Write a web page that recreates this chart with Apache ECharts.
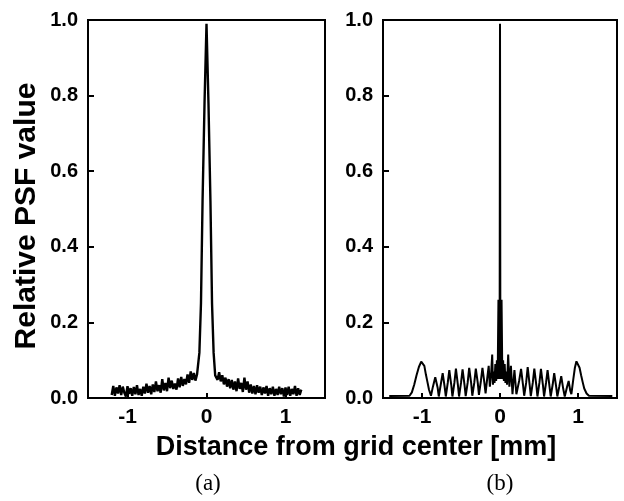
<!DOCTYPE html>
<html>
<head>
<meta charset="utf-8">
<script src="https://cdn.jsdelivr.net/npm/echarts@6/dist/echarts.min.js"></script>
<style>
html,body{margin:0;padding:0;background:#fff;}
#chart{width:624px;height:501px;}
</style>
</head>
<body>
<div id="chart"></div>
<script>
// ---- Data ----
const yTicks = [0, 0.2, 0.4, 0.6, 0.8, 1.0];
const xTicks = [-1, 0, 1];
const yTitle = 'Relative PSF value';
const xTitle = 'Distance from grid center [mm]';
const captions = ['(a)', '(b)'];

// Panel (a)
const xA = [-1.20,-1.18,-1.16,-1.14,-1.12,-1.10,-1.08,-1.06,-1.04,-1.02,-1.00,-0.98,-0.96,-0.94,-0.92,-0.90,-0.88,-0.86,-0.84,-0.82,-0.80,-0.78,-0.76,-0.74,-0.72,-0.70,-0.68,-0.66,-0.64,-0.62,-0.60,-0.58,-0.56,-0.54,-0.52,-0.50,-0.48,-0.46,-0.44,-0.42,-0.40,-0.38,-0.36,-0.34,-0.32,-0.30,-0.28,-0.26,-0.24,-0.22,-0.20,-0.18,-0.16,-0.14,-0.12,
  -0.11,-0.09,-0.07,-0.05,-0.025,0,0.025,0.05,0.07,0.09,0.11,
  0.12,0.14,0.16,0.18,0.20,0.22,0.24,0.26,0.28,0.30,0.32,0.34,0.36,0.38,0.40,0.42,0.44,0.46,0.48,0.50,0.52,0.54,0.56,0.58,0.60,0.62,0.64,0.66,0.68,0.70,0.72,0.74,0.76,0.78,0.80,0.82,0.84,0.86,0.88,0.90,0.92,0.94,0.96,0.98,1.00,1.02,1.04,1.06,1.08,1.10,1.12,1.14,1.16,1.18,1.20];
const yA = [0.008,0.032,0.006,0.028,0.012,0.034,0.008,0.030,0.014,0.004,0.031,0.011,0.026,0.006,0.029,0.010,0.034,0.008,0.024,0.006,0.030,0.012,0.038,0.014,0.032,0.010,0.036,0.016,0.044,0.018,0.034,0.014,0.050,0.020,0.040,0.018,0.054,0.026,0.046,0.024,0.038,0.022,0.052,0.028,0.056,0.032,0.050,0.036,0.062,0.040,0.070,0.048,0.066,0.046,0.062,
  0.060,0.12,0.25,0.52,0.78,0.99,0.78,0.52,0.25,0.12,0.060,
  0.064,0.048,0.068,0.044,0.060,0.036,0.054,0.030,0.050,0.026,0.048,0.022,0.044,0.018,0.052,0.024,0.040,0.016,0.054,0.022,0.044,0.014,0.036,0.012,0.032,0.010,0.034,0.014,0.030,0.008,0.028,0.012,0.032,0.006,0.026,0.010,0.030,0.006,0.024,0.008,0.030,0.010,0.026,0.004,0.028,0.008,0.030,0.006,0.024,0.010,0.032,0.006,0.026,0.008,0.022];

// Panel (b)
const xB = [-1.42,-1.16,-1.13,-1.10,-1.07,-1.04,-1.01,-0.99,-0.97,-0.95,-0.93,-0.91,-0.885,-0.86,-0.83,-0.80,-0.785,-0.76,-0.735,-0.71,-0.695,-0.67,-0.65,-0.625,-0.61,-0.585,-0.565,-0.54,-0.525,-0.50,-0.48,-0.455,-0.44,-0.415,-0.395,-0.37,-0.355,-0.33,-0.31,-0.285,-0.27,-0.245,-0.225,-0.20,-0.185,-0.165,-0.145,-0.13,-0.115,-0.10,-0.09,-0.08,-0.07,-0.06,-0.05,-0.04,-0.03,-0.02,-0.012,-0.005,
  0,0.005,0.012,0.02,0.03,0.04,0.05,0.06,0.07,0.08,0.09,0.105,0.12,0.14,0.16,0.185,0.21,0.245,0.27,0.295,0.31,0.335,0.355,0.38,0.395,0.42,0.44,0.465,0.48,0.505,0.525,0.55,0.565,0.59,0.61,0.635,0.65,0.675,0.695,0.72,0.735,0.76,0.785,0.81,0.83,0.86,0.88,0.90,0.915,0.94,0.96,0.98,1.00,1.02,1.04,1.06,1.08,1.11,1.14,1.44];
const yB = [0.005,0.006,0.015,0.035,0.060,0.082,0.096,0.098,0.085,0.062,0.042,0.022,0.006,0.030,0.055,0.028,0.004,0.035,0.066,0.030,0.004,0.040,0.074,0.035,0.004,0.040,0.078,0.035,0.004,0.040,0.076,0.035,0.005,0.040,0.080,0.040,0.006,0.040,0.078,0.040,0.008,0.045,0.080,0.040,0.012,0.050,0.085,0.030,0.060,0.115,0.035,0.070,0.040,0.090,0.045,0.100,0.050,0.260,0.050,0.120,
  0.990,0.120,0.050,0.260,0.050,0.100,0.045,0.090,0.040,0.070,0.035,0.115,0.030,0.085,0.010,0.074,0.010,0.045,0.077,0.035,0.006,0.040,0.082,0.035,0.005,0.040,0.078,0.035,0.004,0.040,0.077,0.035,0.004,0.040,0.074,0.030,0.004,0.035,0.066,0.030,0.004,0.030,0.058,0.025,0.004,0.030,0.045,0.020,0.010,0.050,0.080,0.097,0.094,0.080,0.060,0.042,0.025,0.012,0.006,0.005];

const pairs = (xs, ys) => xs.map((x, i) => [x, ys[i]]);

const FONT = '"Liberation Sans", Arial, Helvetica, sans-serif';
const SERIF = '"Liberation Serif", "Times New Roman", serif';

function xAxisFor(idx) {
  return {
    gridIndex: idx, type: 'value', min: -1.5, max: 1.5,
    axisLine: {show: true, onZero: false, lineStyle: {color: '#000', width: 2}},
    axisTick: {show: true, inside: true, length: 5, lineStyle: {color: '#000', width: 2}, customValues: xTicks},
    axisLabel: {show: true, margin: 9, color: '#000', fontFamily: FONT, fontWeight: 'bold', fontSize: 21, customValues: xTicks,
      formatter: v => String(v)},
    splitLine: {show: false}
  };
}
function yAxisFor(idx) {
  return {
    gridIndex: idx, type: 'value', min: 0, max: 1, interval: 0.2,
    axisLine: {show: true, onZero: false, lineStyle: {color: '#000', width: 2}},
    axisTick: {show: true, inside: true, length: 6, lineStyle: {color: '#000', width: 2}},
    axisLabel: {show: true, margin: 10, color: '#000', fontFamily: FONT, fontWeight: 'bold', fontSize: 20,
      formatter: v => v.toFixed(1)},
    splitLine: {show: false}
  };
}

const chart = echarts.init(document.getElementById('chart'), null, {renderer: 'canvas'});
chart.setOption({
  backgroundColor: '#fff',
  animation: false,
  grid: [
    {left: 88, top: 20, width: 237, height: 378, show: true, borderColor: '#000', borderWidth: 2},
    {left: 383, top: 20, width: 234, height: 378, show: true, borderColor: '#000', borderWidth: 2}
  ],
  xAxis: [xAxisFor(0), xAxisFor(1)],
  yAxis: [yAxisFor(0), yAxisFor(1)],
  graphic: [
    {type: 'text', x: 27, y: 216, rotation: Math.PI / 2,
      style: {text: yTitle, font: 'bold 30px ' + FONT, fill: '#000', align: 'center', verticalAlign: 'middle'}},
    {type: 'text', x: 356, y: 448,
      style: {text: xTitle, font: 'bold 27px ' + FONT, fill: '#000', align: 'center', verticalAlign: 'middle'}},
    {type: 'text', x: 208, y: 484,
      style: {text: captions[0], font: '23px ' + SERIF, fill: '#000', align: 'center', verticalAlign: 'middle'}},
    {type: 'text', x: 500, y: 484,
      style: {text: captions[1], font: '23px ' + SERIF, fill: '#000', align: 'center', verticalAlign: 'middle'}}
  ],
  series: [
    {type: 'line', xAxisIndex: 0, yAxisIndex: 0, data: pairs(xA, yA), showSymbol: false,
      lineStyle: {color: '#000', width: 2.4}, silent: true},
    {type: 'line', xAxisIndex: 1, yAxisIndex: 1, data: pairs(xB, yB), showSymbol: false,
      lineStyle: {color: '#000', width: 2}, silent: true}
  ]
});
</script>
</body>
</html>
